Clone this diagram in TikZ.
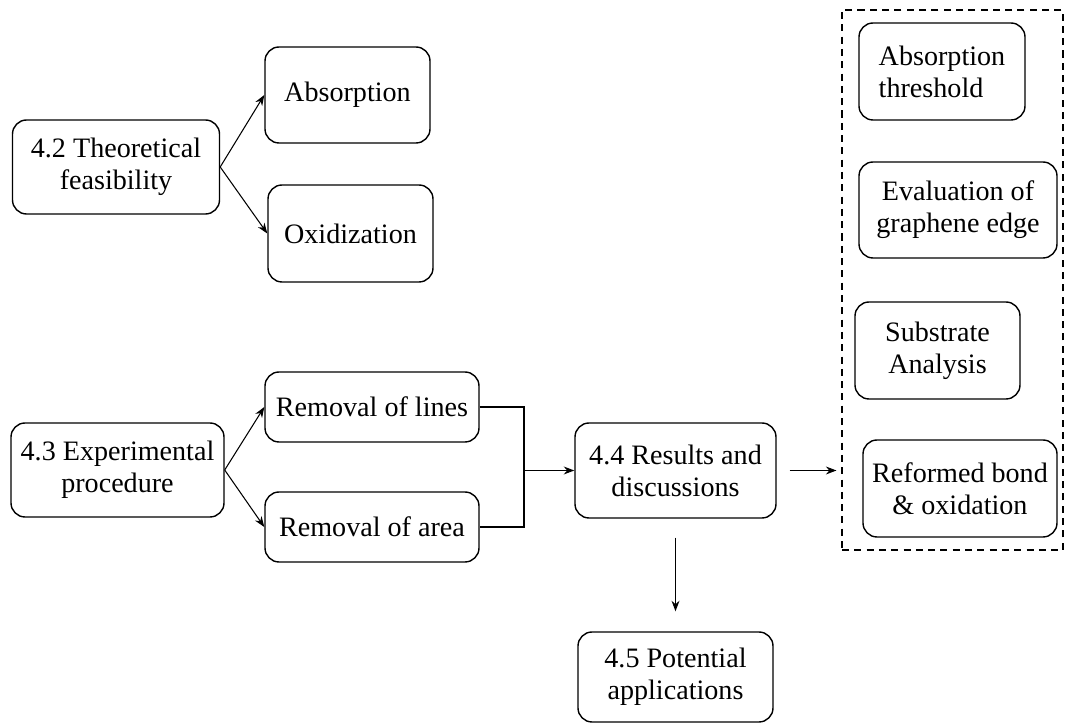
\documentclass[tikz,border=0pt]{standalone}
\usepackage{fontspec}
\setmainfont{Liberation Serif}
\usetikzlibrary{arrows.meta, positioning}

\begin{document}
\begin{tikzpicture}[
    >={Stealth[length=6pt, width=4.5pt]},
    line width=0.6pt,
    secbox/.style={draw, line width=0.8pt, rounded corners=8pt, align=center, font=\fontsize{16}{18.2}\selectfont, minimum width=#1, minimum height=1.92cm, inner sep=2pt},
]
    \useasboundingbox (0, 0) rectangle (21.3, 14.52);

    % Theoretical branch
    \node[secbox=4.14cm, minimum height=1.88cm] (theo) at (2.32, 11.18) {4.2 Theoretical\\feasibility};
    \node[secbox=3.3cm] (absorp) at (6.95, 12.62) {Absorption};
    \node[secbox=3.3cm, minimum height=1.94cm] (oxid) at (7.01, 9.85) {Oxidization};
    \draw[->] (theo.east) -- (absorp.west);
    \draw[->] (theo.east) -- (oxid.west);

    % Experimental branch
    \node[secbox=4.26cm, minimum height=1.88cm] (exper) at (2.35, 5.12) {4.3 Experimental\\procedure};
    \node[secbox=4.28cm, minimum height=1.4cm] (rlines) at (7.44, 6.38) {Removal of lines};
    \node[secbox=4.28cm, minimum height=1.4cm] (rarea) at (7.44, 3.98) {Removal of area};
    \draw[->] (exper.east) -- (rlines.west);
    \draw[->] (exper.east) -- (rarea.west);

    % Results and applications
    \node[secbox=4.02cm, minimum height=1.9cm] (results) at (13.51, 5.11) {4.4 Results and\\discussions};
    \node[secbox=3.9cm, minimum height=1.8cm] (potential) at (13.51, 0.98) {4.5 Potential\\applications};
    \coordinate (merge) at (10.48, 5.11);
    \draw (rlines.east) -| (merge) |- (rarea.east);
    \draw[->] (merge) -- (results.west);
    \draw[->, shorten <=0.38cm, shorten >=0.4cm] (results.south) -- (potential.north);

    % Analysis group
    \node[draw, dash pattern={on 4pt off 3pt}, minimum width=4.42cm, minimum height=10.8cm] (analysis) at (19.05, 8.92) {};
    \node[secbox=3.32cm, align=left, minimum height=1.94cm] (thresh) at (18.84, 13.09) {Absorption\\threshold};
    \node[secbox=3.96cm] (evalu) at (19.16, 10.32) {Evaluation of\\graphene edge};
    \node[secbox=3.3cm, minimum height=1.94cm] (substr) at (18.75, 7.51) {Substrate\\Analysis};
    \node[secbox=3.88cm, minimum height=1.94cm] (reform) at (19.2, 4.75) {Reformed bond\\\& oxidation};
    \draw[->, shorten <=0.26cm, shorten >=0.1cm] (results.east) -- (analysis.west |- results.east);
\end{tikzpicture}
\end{document}
